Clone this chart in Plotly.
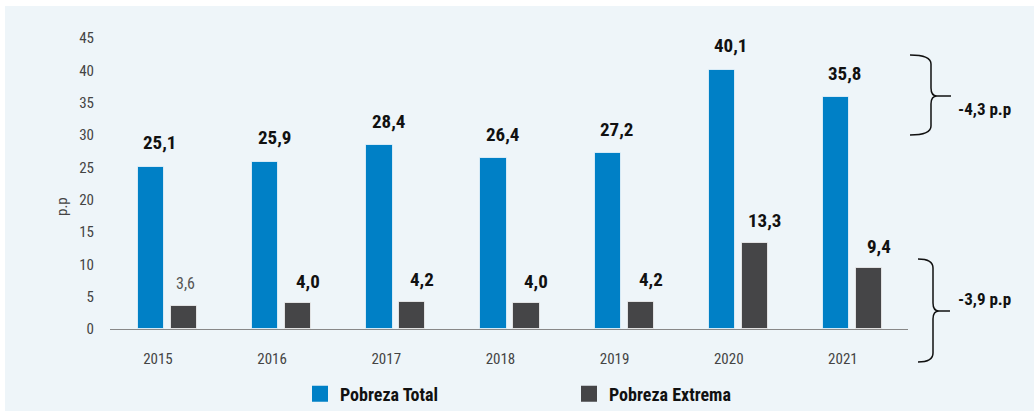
import plotly.graph_objects as go

years = ["2015", "2016", "2017", "2018", "2019", "2020", "2021"]
pobreza_total = [25.1, 25.9, 28.4, 26.4, 27.2, 40.1, 35.8]
pobreza_extrema = [3.6, 4.0, 4.2, 4.0, 4.2, 13.3, 9.4]
extrema_label_bold = [False, True, True, True, True, True, True]
y_ticks = [0, 5, 10, 15, 20, 25, 30, 35, 40, 45]
bracket_texts = ["-4,3 p.p", "-3,9 p.p"]

FONT = "Liberation Sans Narrow, Roboto Condensed, DejaVu Sans Condensed, sans-serif"
BLUE = "#0080C6"
DARK = "#454547"
BG = "#EEF5F9"

W, H = 1034, 413
L, R, T, B = 110, 126, 38, 84

xs = list(range(len(years)))
fig = go.Figure()
fig.add_trace(go.Bar(
    x=xs, y=pobreza_total, name="Pobreza Total", showlegend=False,
    marker=dict(color=BLUE, line=dict(color="rgba(255,255,255,0.7)", width=1)),
    width=0.23, offset=-0.175,
))
fig.add_trace(go.Bar(
    x=xs, y=pobreza_extrema, name="Pobreza Extrema", showlegend=False,
    marker=dict(color=DARK, line=dict(color="rgba(255,255,255,0.7)", width=1)),
    width=0.23, offset=0.113,
))
# legend entries with larger square swatches
for name, col in [("Pobreza Total", BLUE), ("Pobreza Extrema", DARK)]:
    fig.add_trace(go.Scatter(
        x=[None], y=[None], mode="markers", name=name,
        marker=dict(symbol="square", size=16, color=col), showlegend=True,
    ))

annotations = []
for i, v in enumerate(pobreza_total):
    annotations.append(dict(
        x=i, y=v, xref="x", yref="y", text=f"{v:.1f}".replace(".", ","),
        showarrow=False, xshift=2, yshift=24,
        font=dict(family=FONT, size=19, color="#111111", weight="bold"),
    ))
for i, v in enumerate(pobreza_extrema):
    bold = extrema_label_bold[i]
    annotations.append(dict(
        x=i, y=v, xref="x", yref="y", text=f"{v:.1f}".replace(".", ","),
        showarrow=False, xshift=36 if bold else 28, yshift=22,
        font=dict(family=FONT, size=19 if bold else 16,
                  color="#111111" if bold else "#555555",
                  weight="bold" if bold else "normal"),
    ))


def px(xp):
    return (xp - L) / (W - L - R)


def py(yp):
    return (H - B - yp) / (H - T - B)


def brace_path(x0, xv, xt, xe, y0, ym, y1):
    pts = [
        ("M", [(x0, y0)]),
        ("Q", [(xv, y0), (xv, y0 + 9)]),
        ("L", [(xv, ym - 8)]),
        ("Q", [(xv, ym), (xt, ym)]),
        ("L", [(xe, ym)]),
        ("M", [(xt, ym)]),
        ("Q", [(xv, ym), (xv, ym + 8)]),
        ("L", [(xv, y1 - 9)]),
        ("Q", [(xv, y1), (x0, y1)]),
    ]
    s = ""
    for cmd, ps in pts:
        s += cmd + " " + " ".join(f"{px(a):.5f},{py(b):.5f}" for a, b in ps) + " "
    return s.strip()


shapes = [
    dict(type="rect", xref="paper", yref="paper",
         x0=px(5), x1=px(1040), y0=py(411), y1=py(6),
         fillcolor=BG, line=dict(width=0), layer="below"),
    dict(type="path", xref="paper", yref="paper",
         path=brace_path(910, 931, 937, 951, 55, 96, 135),
         line=dict(color="#111111", width=1.5)),
    dict(type="path", xref="paper", yref="paper",
         path=brace_path(918, 933, 939, 950, 259, 311, 362),
         line=dict(color="#111111", width=1.5)),
]
annotations.append(dict(x=px(956), y=py(97), xref="paper", yref="paper",
                        text=bracket_texts[0], showarrow=False, xanchor="left",
                        font=dict(family=FONT, size=17, color="#111111", weight="bold")))
annotations.append(dict(x=px(956), y=py(311), xref="paper", yref="paper",
                        text=bracket_texts[1], showarrow=False, xanchor="left",
                        font=dict(family=FONT, size=17, color="#111111", weight="bold")))
annotations.append(dict(x=px(51), y=py(207), xref="paper", yref="paper",
                        text="p.p", showarrow=False, textangle=-90,
                        font=dict(family=FONT, size=15, color="#444444")))

fig.update_layout(
    width=W, height=H,
    margin=dict(l=L, r=R, t=T, b=B, autoexpand=False),
    paper_bgcolor="white", plot_bgcolor="rgba(0,0,0,0)",
    barmode="overlay", bargap=0,
    font=dict(family=FONT, color="#444444"),
    shapes=shapes, annotations=annotations,
    showlegend=True,
    legend=dict(orientation="h", x=px(300), y=py(394), xanchor="left", yanchor="middle",
                entrywidth=224, entrywidthmode="pixels", itemsizing="trace",
                font=dict(family=FONT, size=18, color="#111111", weight="bold"),
                bgcolor="rgba(0,0,0,0)"),
)
fig.update_xaxes(
    range=[-0.42, 6.57], tickvals=xs, ticktext=years,
    showline=True, linecolor="#888888", linewidth=1, ticks="",
    showgrid=False, zeroline=False, ticklabelstandoff=16,
    tickfont=dict(family=FONT, size=15, color="#444444"), fixedrange=True,
)
fig.update_yaxes(
    range=[0, 45], tickvals=y_ticks, showgrid=False, zeroline=False,
    showline=False, ticks="", ticklabelstandoff=15,
    tickfont=dict(family=FONT, size=15, color="#444444"),
)

fig.write_html("out.html", config={"displayModeBar": False},
               post_script="document.body.style.margin='0';document.body.style.padding='0';")
